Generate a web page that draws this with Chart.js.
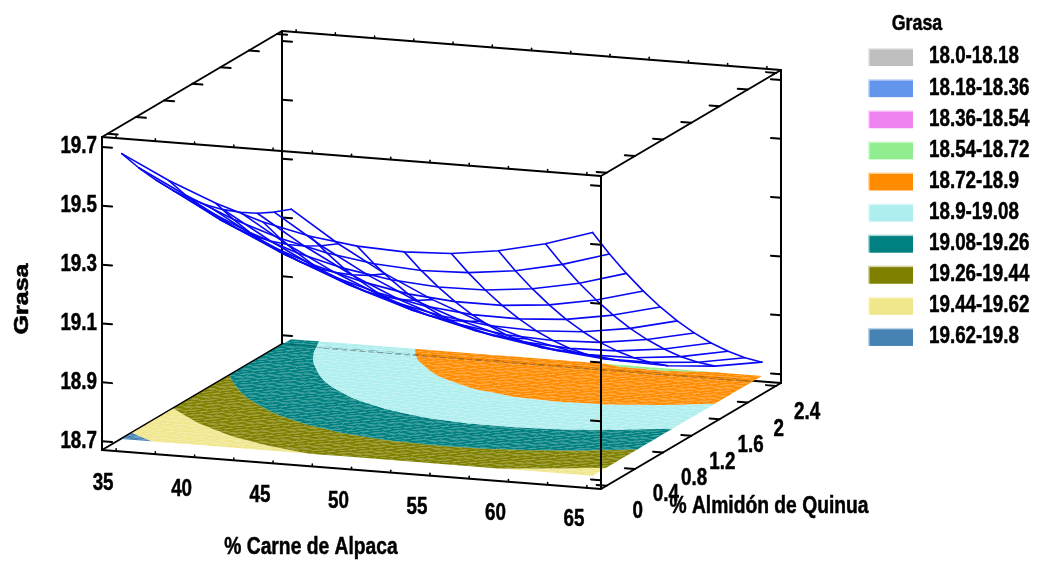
<!DOCTYPE html>
<html><head><meta charset="utf-8">
<style>html,body{margin:0;padding:0;background:#fff}canvas{display:block}</style>
<script src="https://cdn.jsdelivr.net/npm/chart.js@4"></script></head>
<body><canvas id="c" width="1039" height="561"></canvas>
<script>
const carne = [35,38,41,44,47,50,53,56,59,62,65];
const almidon = [0,0.24,0.48,0.72,0.96,1.2,1.44,1.68,1.92,2.16,2.4];
// one row per almidon value, one column per carne value
const grasa = [
[19.670,19.591,19.526,19.475,19.439,19.418,19.411,19.418,19.440,19.476,19.527],
[19.588,19.507,19.439,19.386,19.348,19.324,19.314,19.319,19.338,19.372,19.420],
[19.513,19.429,19.359,19.303,19.262,19.236,19.224,19.226,19.243,19.274,19.320],
[19.444,19.357,19.285,19.227,19.184,19.154,19.140,19.140,19.154,19.183,19.226],
[19.382,19.293,19.218,19.157,19.111,19.079,19.062,19.060,19.071,19.098,19.138],
[19.326,19.234,19.157,19.094,19.045,19.011,18.991,18.986,18.995,19.019,19.057],
[19.276,19.182,19.102,19.036,18.985,18.949,18.926,18.919,18.925,18.947,18.982],
[19.233,19.136,19.054,18.986,18.932,18.893,18.868,18.858,18.862,18.881,18.914],
[19.196,19.097,19.012,18.941,18.885,18.843,18.816,18.803,18.805,18.821,18.852],
[19.166,19.064,18.976,18.903,18.845,18.800,18.771,18.755,18.755,18.768,18.796],
[19.142,19.037,18.947,18.872,18.811,18.764,18.732,18.714,18.710,18.721,18.747]];
const bandLow = [18.0,18.18,18.36,18.54,18.72,18.9,19.08,19.26,19.44,19.62];
const bandHigh = [18.18,18.36,18.54,18.72,18.9,19.08,19.26,19.44,19.62,19.8];
const bandLabels = ['18.0-18.18','18.18-18.36','18.36-18.54','18.54-18.72','18.72-18.9','18.9-19.08','19.08-19.26','19.26-19.44','19.44-19.62','19.62-19.8'];
const bandColors = ['#bebebe','#6495ed','#ee82ee','#90ee90','#ff8c00','#afeeee','#008080','#808000','#f0e68c','#4682b4'];
const carneTicks = [35,40,45,50,55,60,65];
const almidonTicks = [0,0.4,0.8,1.2,1.6,2,2.4];
const grasaTicks = [18.7,18.9,19.1,19.3,19.5,19.7];
const carneMinor = [35,37.5,40,42.5,45,47.5,50,52.5,55,57.5,60,62.5,65];

// view of the 3-D box
const box = {xmin:34.1,xmax:65.9,ymin:-0.08,ymax:2.47,zmin:18.67,zmax:19.734,floor:18.7};
const view = {ox:102,oy:450,xx:499,xy:39,yx:180,yy:-106,zy:-313};
function P(x,y,z){
  const a=(x-box.xmin)/(box.xmax-box.xmin), b=(y-box.ymin)/(box.ymax-box.ymin), c=(z-box.zmin)/(box.zmax-box.zmin);
  return {x:view.ox+view.xx*a+view.yx*b, y:view.oy+view.xy*a+view.yy*b+view.zy*c};
}
const datasets=[];
function line(pts,order,color,width,dash){
  datasets.push({data:pts,showLine:true,pointRadius:0,borderColor:color||'#000',borderWidth:width||2,borderDash:dash||[],fill:false,tension:0,order,borderCapStyle:'round',borderJoinStyle:'round'});
}
const B=box;
// hidden-side box edges
line([P(B.xmin,B.ymax,B.zmax),P(B.xmin,B.ymax,B.zmin)],60);
line([P(B.xmin,B.ymax,B.zmin),P(B.xmax,B.ymax,B.zmin)],60);
line([P(B.xmin,B.ymin,B.zmin),P(B.xmin,B.ymax,B.zmin)],60);
line([P(B.xmin,B.ymax,B.zmax),P(B.xmax,B.ymax,B.zmax)],60);
line([P(B.xmax,B.ymax,B.zmax),P(B.xmax,B.ymax,B.zmin)],60);
// front box edges
line([P(B.xmin,B.ymin,B.zmin),P(B.xmin,B.ymin,B.zmax)],5);
line([P(B.xmax,B.ymin,B.zmin),P(B.xmax,B.ymin,B.zmax)],5);
line([P(B.xmin,B.ymin,B.zmax),P(B.xmax,B.ymin,B.zmax)],5);
line([P(B.xmin,B.ymin,B.zmin),P(B.xmax,B.ymin,B.zmin)],5);
line([P(B.xmax,B.ymin,B.zmin),P(B.xmax,B.ymax,B.zmin)],5);
line([P(B.xmin,B.ymin,B.zmax),P(B.xmin,B.ymax,B.zmax)],5);
line([P(B.xmax,B.ymin,B.zmax),P(B.xmax,B.ymax,B.zmax)],5);
// ticks
const tk=0.64;
grasaTicks.forEach(z=>{
  line([P(B.xmin,B.ymin,z),P(B.xmin+tk,B.ymin,z)],5);
  line([P(B.xmin,B.ymax,z),P(B.xmin+tk,B.ymax,z)],60);
  line([P(B.xmax,B.ymin,z),P(B.xmax-tk,B.ymin,z)],5);
  line([P(B.xmax,B.ymax,z),P(B.xmax-tk,B.ymax,z)],60);
});
almidonTicks.forEach(y=>{
  line([P(B.xmax,y,B.zmin),P(B.xmax-tk,y,B.zmin)],5);
  line([P(B.xmin,y,B.zmax),P(B.xmin+tk,y,B.zmax)],5);
  line([P(B.xmax,y,B.zmax),P(B.xmax-tk,y,B.zmax)],5);
});
carneMinor.forEach(x=>{
  line([P(x,B.ymin,B.zmin),P(x,B.ymin,B.zmin+0.008)],5,'#000',1.5);
  line([P(x,B.ymin,B.zmax),P(x,B.ymin,B.zmax+0.008)],5,'#000',1.5);
  line([P(x,B.ymax,B.zmax),P(x,B.ymax,B.zmax+0.008)],60,'#000',1.5);
});
// floor contours: each mesh cell is split, then each triangle clipped to each band
function clip(poly,level,keepAbove){
  const out=[];
  for(let i=0;i<poly.length;i++){
    const a=poly[i],b=poly[(i+1)%poly.length];
    const ia=keepAbove?a.z>=level:a.z<=level, ib=keepAbove?b.z>=level:b.z<=level;
    if(ia) out.push(a);
    if(ia!==ib){const t=(level-a.z)/(b.z-a.z);out.push({x:a.x+t*(b.x-a.x),y:a.y+t*(b.y-a.y),z:level});}
  }
  return out;
}
const SUB=3;
function bil(i,j,s,t){
  const a=grasa[j][i],b=grasa[j][i+1],c=grasa[j+1][i],d=grasa[j+1][i+1];
  return {x:carne[i]+s*(carne[i+1]-carne[i]),y:almidon[j]+t*(almidon[j+1]-almidon[j]),z:a*(1-s)*(1-t)+b*s*(1-t)+c*(1-s)*t+d*s*t};
}
function tri(t){
  bandLow.forEach((lo,k)=>{
    let p=clip(t,lo,true); if(p.length<3) return;
    p=clip(p,bandHigh[k],false); if(p.length<3) return;
    const pts=p.map(q=>P(q.x,q.y,B.floor)); pts.push(pts[0]);
    datasets.push({data:pts,showLine:true,pointRadius:0,borderWidth:0,borderColor:'rgba(0,0,0,0)',backgroundColor:bandColors[k],fill:'shape',tension:0,order:40});
  });
}
for(let j=0;j<10;j++)for(let i=0;i<10;i++)for(let a=0;a<SUB;a++)for(let b=0;b<SUB;b++){
  const q00=bil(i,j,a/SUB,b/SUB),q10=bil(i,j,(a+1)/SUB,b/SUB),q01=bil(i,j,a/SUB,(b+1)/SUB),q11=bil(i,j,(a+1)/SUB,(b+1)/SUB);
  tri([q00,q10,q11]);tri([q00,q11,q01]);
}
line([P(37.7,2.26,B.floor),P(65,2.26,B.floor)],30,'rgba(90,90,90,0.55)',1,[5,4]);
// surface mesh
grasa.forEach((row,j)=>line(row.map((z,i)=>P(carne[i],almidon[j],z)),20,'#0808f4',1.6));
carne.forEach((x,i)=>line(almidon.map((y,j)=>P(x,y,grasa[j][i])),20,'#0808f4',1.6));

function narrow(ctx,t,x,y,align,size,sx){
  ctx.save();ctx.translate(x,y);ctx.scale(sx||0.8,1);
  ctx.font='bold '+(size||23.5)+'px "Liberation Sans",sans-serif';ctx.textAlign=align||'center';
  ctx.strokeStyle='#000';ctx.lineWidth=0.5;
  ctx.fillText(t,0,0);ctx.strokeText(t,0,0);ctx.restore();
}
const textPlugin={id:'texts',afterDraw(chart){
  const ctx=chart.ctx, sx=chart.scales.x, sy=chart.scales.y;
  const at=(p)=>[sx.getPixelForValue(p.x),sy.getPixelForValue(p.y)];
  ctx.save();ctx.fillStyle='#000';ctx.textBaseline='middle';
  grasaTicks.forEach(z=>{const [x,y]=at(P(B.xmin,B.ymin,z));narrow(ctx,z.toFixed(1),x-5,y,'right');});
  carneTicks.forEach(v=>{const [x,y]=at(P(v,B.ymin,B.zmin));narrow(ctx,String(v),x-13,y+32);});
  almidonTicks.forEach(v=>{const [x,y]=at(P(B.xmax,v,B.zmin));narrow(ctx,String(v),x+31,y+25.5+(v/2.4)*1.5);});
  narrow(ctx,'% Carne de Alpaca',311,548,'center',23.5,0.82);
  narrow(ctx,'% Almidón de Quinua',769,507,'center',23.5,0.82);
  ctx.save();ctx.translate(22,299);ctx.rotate(-Math.PI/2);ctx.scale(1.25,1);
  ctx.font='bold 20px "Liberation Sans",sans-serif';ctx.textAlign='center';ctx.strokeStyle='#000';ctx.lineWidth=0.6;
  ctx.fillText('Grasa',0,0);ctx.strokeText('Grasa',0,0);ctx.restore();
  // legend
  narrow(ctx,'Grasa',917,24,'center',22,0.81);
  bandLabels.forEach((t,k)=>{
    const top=48+k*31.1;
    ctx.globalAlpha=0.35;ctx.fillStyle=bandColors[k];ctx.fillRect(868,top,45,18);
    ctx.globalAlpha=1;ctx.fillRect(869.5,top+1.5,43.5,16.5);
    ctx.fillStyle='#000';narrow(ctx,t,929,top+9,'left',23.5,0.8);
  });
  ctx.restore();
}};
new Chart(document.getElementById('c'),{
  type:'scatter',
  data:{datasets},
  options:{responsive:false,animation:false,events:[],
    layout:{padding:0},
    scales:{x:{type:'linear',display:false,min:0,max:1039},y:{type:'linear',display:false,min:0,max:561,reverse:true}},
    plugins:{legend:{display:false},tooltip:{enabled:false}}},
  plugins:[textPlugin]
});
</script></body></html>
